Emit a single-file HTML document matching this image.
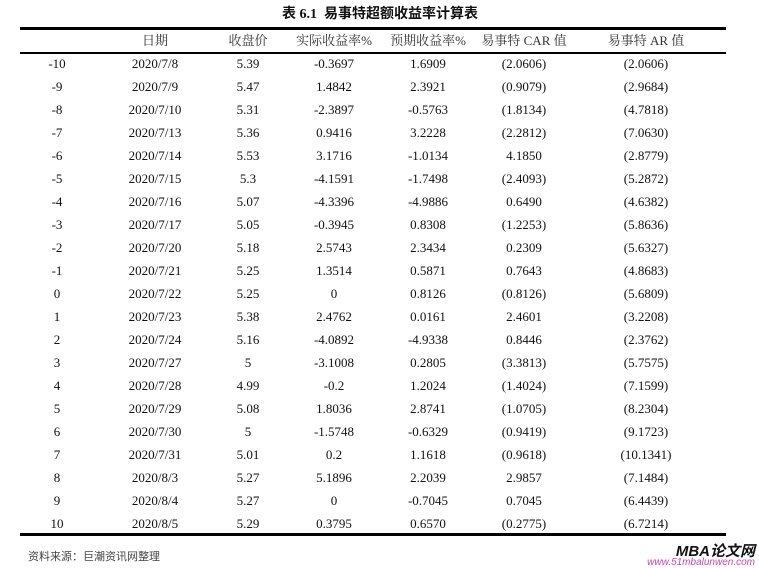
<!DOCTYPE html><html><head><meta charset="utf-8"><style>
body{margin:0;width:759px;height:568px;background:#fff;position:relative;font-family:"Liberation Serif","Noto Serif CJK SC",serif;color:#111;overflow:hidden}
.t{position:absolute;font-size:13px;white-space:nowrap;transform:translateX(-50%);line-height:16px}
.h{color:#333}
.l{position:absolute;left:20px;width:706px;background:#000}
</style></head><body>
<div class="t" style="left:380px;top:7px;font-size:14px;font-weight:bold;font-family:'Liberation Serif','Noto Sans CJK SC',serif">表 6.1&nbsp; 易事特超额收益率计算表</div>
<div class="l" style="top:27px;height:3px"></div>
<div class="l" style="top:52px;height:2px"></div>
<div class="l" style="top:533px;height:3px"></div>
<div id="c"></div>
<div style="position:absolute;left:28px;top:548px;font-size:11px;color:#444;font-family:'Noto Sans CJK SC',sans-serif">资料来源：巨潮资讯网整理</div>
<div style="position:absolute;right:4px;top:540px;font-size:15px;font-weight:bold;font-style:italic;font-family:'Liberation Sans','Noto Sans CJK SC',sans-serif">MBA论文网</div>
<div style="position:absolute;right:4px;top:557px;font-size:10px;font-style:italic;color:#c4a;font-family:'Liberation Sans',sans-serif">www.51mbalunwen.com</div>
<script>
var xs=[57,155,248,334,428,524,646];
var hd=["","日期","收盘价","实际收益率%","预期收益率%","易事特 CAR 值","易事特 AR 值"];
var d=`-10,2020/7/8,5.39,-0.3697,1.6909,(2.0606),(2.0606)
-9,2020/7/9,5.47,1.4842,2.3921,(0.9079),(2.9684)
-8,2020/7/10,5.31,-2.3897,-0.5763,(1.8134),(4.7818)
-7,2020/7/13,5.36,0.9416,3.2228,(2.2812),(7.0630)
-6,2020/7/14,5.53,3.1716,-1.0134,4.1850,(2.8779)
-5,2020/7/15,5.3,-4.1591,-1.7498,(2.4093),(5.2872)
-4,2020/7/16,5.07,-4.3396,-4.9886,0.6490,(4.6382)
-3,2020/7/17,5.05,-0.3945,0.8308,(1.2253),(5.8636)
-2,2020/7/20,5.18,2.5743,2.3434,0.2309,(5.6327)
-1,2020/7/21,5.25,1.3514,0.5871,0.7643,(4.8683)
0,2020/7/22,5.25,0,0.8126,(0.8126),(5.6809)
1,2020/7/23,5.38,2.4762,0.0161,2.4601,(3.2208)
2,2020/7/24,5.16,-4.0892,-4.9338,0.8446,(2.3762)
3,2020/7/27,5,-3.1008,0.2805,(3.3813),(5.7575)
4,2020/7/28,4.99,-0.2,1.2024,(1.4024),(7.1599)
5,2020/7/29,5.08,1.8036,2.8741,(1.0705),(8.2304)
6,2020/7/30,5,-1.5748,-0.6329,(0.9419),(9.1723)
7,2020/7/31,5.01,0.2,1.1618,(0.9618),(10.1341)
8,2020/8/3,5.27,5.1896,2.2039,2.9857,(7.1484)
9,2020/8/4,5.27,0,-0.7045,0.7045,(6.4439)
10,2020/8/5,5.29,0.3795,0.6570,(0.2775),(6.7214)`.split("\n");
var h="";
hd.forEach(function(s,i){h+='<div class="t h" style="left:'+xs[i]+'px;top:33px;font-family:\'Liberation Serif\',\'Noto Serif CJK SC\',serif">'+s+'</div>';});
d.forEach(function(r,j){r.split(",").forEach(function(s,i){h+='<div class="t" style="left:'+xs[i]+'px;top:'+(56+j*23)+'px">'+s+'</div>';});});
document.getElementById("c").innerHTML=h;
</script>
</body></html>
